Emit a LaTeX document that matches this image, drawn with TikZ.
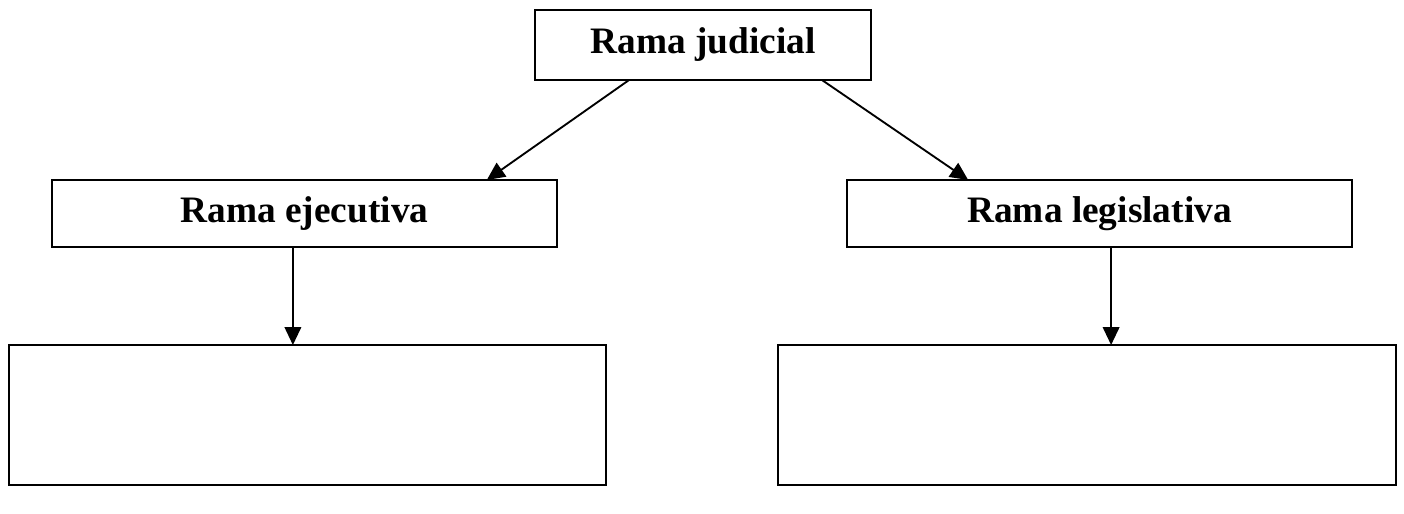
\documentclass[tikz,border=0pt]{standalone}
\usepackage{fontspec}
\setmainfont{Liberation Serif}
\usetikzlibrary{arrows.meta,calc}
\begin{document}
\begin{tikzpicture}[x=0.75pt,y=-0.75pt,
  box/.style={draw,line width=1.5pt,inner sep=0pt,outer sep=0pt,
    font=\fontsize{28}{32}\selectfont\bfseries},
  link/.style={line width=1.4pt,-{Triangle[length=13.5pt,width=12.5pt]}}]
  \useasboundingbox (0,0) rectangle (1404,514);
  % branch boxes
  \node[box,minimum width=252pt,minimum height=52.5pt] (jud) at (703,45) {Rama judicial};
  \node[box,minimum width=378.75pt,minimum height=50.25pt] (eje) at (304.5,213.5) {Rama ejecutiva};
  \node[box,minimum width=378.75pt,minimum height=50.25pt] (leg) at (1099.5,213.5) {Rama legislativa};
  % empty boxes below
  \node[box,minimum width=447.75pt,minimum height=105pt] (ejebox) at (307.5,415) {};
  \node[box,minimum width=463.5pt,minimum height=105pt] (legbox) at (1087,415) {};
  % connectors
  \draw[link] ($(jud.south west)!0.28!(jud.south east)$) -- ($(eje.north west)!0.861!(eje.north east)$);
  \draw[link] ($(jud.south west)!0.854!(jud.south east)$) -- ($(leg.north west)!0.24!(leg.north east)$);
  \coordinate (e) at ($(eje.south west)!0.477!(eje.south east)$);
  \coordinate (l) at ($(leg.south west)!0.523!(leg.south east)$);
  \draw[link] (e) -- (e |- ejebox.north);
  \draw[link] (l) -- (l |- legbox.north);
\end{tikzpicture}
\end{document}
